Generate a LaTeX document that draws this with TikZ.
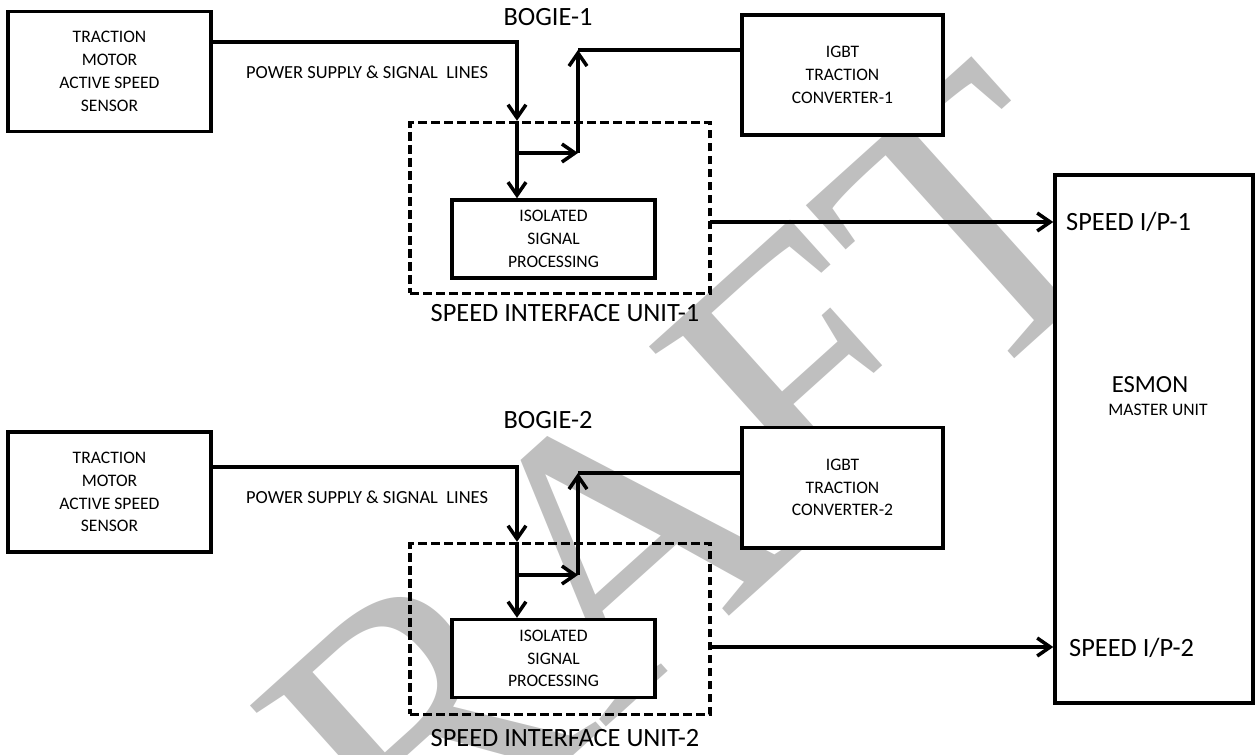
\documentclass[tikz,border=0pt]{standalone}
\usepackage{fontspec}
\setmainfont{Carlito}
\newfontfamily\draftfont{Liberation Serif}
\usetikzlibrary{positioning,arrows.meta}

\begin{document}
\begin{tikzpicture}[x=0.02cm,y=-0.02cm,
    every node/.style={font=\fontsize{10}{13}\selectfont},
    box/.style={draw,fill=white,line width=2pt,align=center,inner sep=0pt},
    sens/.style={box,minimum width=4.06cm,minimum height=2.4cm},
    conv/.style={box,minimum width=4.02cm,minimum height=2.41cm},
    isp/.style={box,minimum width=4.06cm,minimum height=1.56cm},
    unit/.style={draw,line width=2pt,dash pattern=on 5pt off 2.4pt,minimum width=6cm,minimum height=3.42cm,inner sep=0pt},
    wire/.style={line width=2pt},
    tip/.style={-{Straight Barb[length=2.6mm,width=3.6mm]}},
    title/.style={font=\fontsize{15}{18}\selectfont},
  ]
  \useasboundingbox (0,0) rectangle (1257,754);
  % watermark
  \node[text=black!25,rotate=42,font=\fontsize{220}{220}\draftfont] (draft) at (590,570) {DRAFT};

  % bogie 1
  \node[title] (bogieA) at (548,17) {BOGIE-1};
  \node[sens] (sensA) at (109.5,71.5) {TRACTION\\MOTOR\\ACTIVE SPEED\\SENSOR};
  \node[conv] (igbtA) at (842.5,75) {IGBT\\TRACTION\\CONVERTER-1};
  \node[unit] (siuA) at (560,208) {};
  \node[isp] (ispA) at (553.5,239) {ISOLATED\\SIGNAL\\PROCESSING};
  \node[title] (siuAT) at (565,313) {SPEED INTERFACE UNIT-1};
  \node[anchor=west,font=\fontsize{10.5}{13}\selectfont] (pwrA) at (240,72) {POWER SUPPLY \& SIGNAL\ \ LINES};

  % bogie 2
  \node[title] (bogieB) at (548,420) {BOGIE-2};
  \node[sens] (sensB) at (109.5,492) {TRACTION\\MOTOR\\ACTIVE SPEED\\SENSOR};
  \node[conv] (igbtB) at (842.5,487.5) {IGBT\\TRACTION\\CONVERTER-2};
  \node[unit] (siuB) at (560,629) {};
  \node[isp] (ispB) at (553.5,658.5) {ISOLATED\\SIGNAL\\PROCESSING};
  \node[title] (siuBT) at (565,738) {SPEED INTERFACE UNIT-2};
  \node[anchor=west,font=\fontsize{10.5}{13}\selectfont] (pwrB) at (240,497) {POWER SUPPLY \& SIGNAL\ \ LINES};

  % master unit
  \node[box,minimum width=3.96cm,minimum height=10.56cm] (esmon) at (1154,439) {};
  \node[font=\fontsize{14}{16}\selectfont] (esmonT) at (1150,385) {ESMON};
  \node (masterT) at (1158,410) {MASTER UNIT};
  \node[title,anchor=west] (inA) at (1060,222) {SPEED I/P-1};
  \node[title,anchor=west] (inB) at (1063,648) {SPEED I/P-2};

  % wiring bogie 1
  \coordinate (pA) at (517,42);
  \coordinate (bA) at (517,153);
  \coordinate (cA) at (578,153);
  \coordinate (dA) at (578,50);
  \coordinate (oA) at (710,222);
  \draw[wire,tip] (sensA.east |- pA) -- (pA) -- (pA |- siuA.north);
  \draw[wire,tip] (pA |- siuA.north) -- (pA |- ispA.north);
  \draw[wire,tip] (bA) -- (cA);
  \draw[wire,tip] (cA) -- (dA);
  \draw[wire] (dA) -- (dA -| igbtA.west);
  \draw[wire,tip] (oA) -- (oA -| esmon.west);

  % wiring bogie 2
  \coordinate (pB) at (517,467);
  \coordinate (bB) at (517,575);
  \coordinate (cB) at (578,575);
  \coordinate (dB) at (578,473);
  \coordinate (oB) at (710,647);
  \draw[wire,tip] (sensB.east |- pB) -- (pB) -- (pB |- siuB.north);
  \draw[wire,tip] (pB |- siuB.north) -- (pB |- ispB.north);
  \draw[wire,tip] (bB) -- (cB);
  \draw[wire,tip] (cB) -- (dB);
  \draw[wire] (dB) -- (dB -| igbtB.west);
  \draw[wire,tip] (oB) -- (oB -| esmon.west);
\end{tikzpicture}
\end{document}
